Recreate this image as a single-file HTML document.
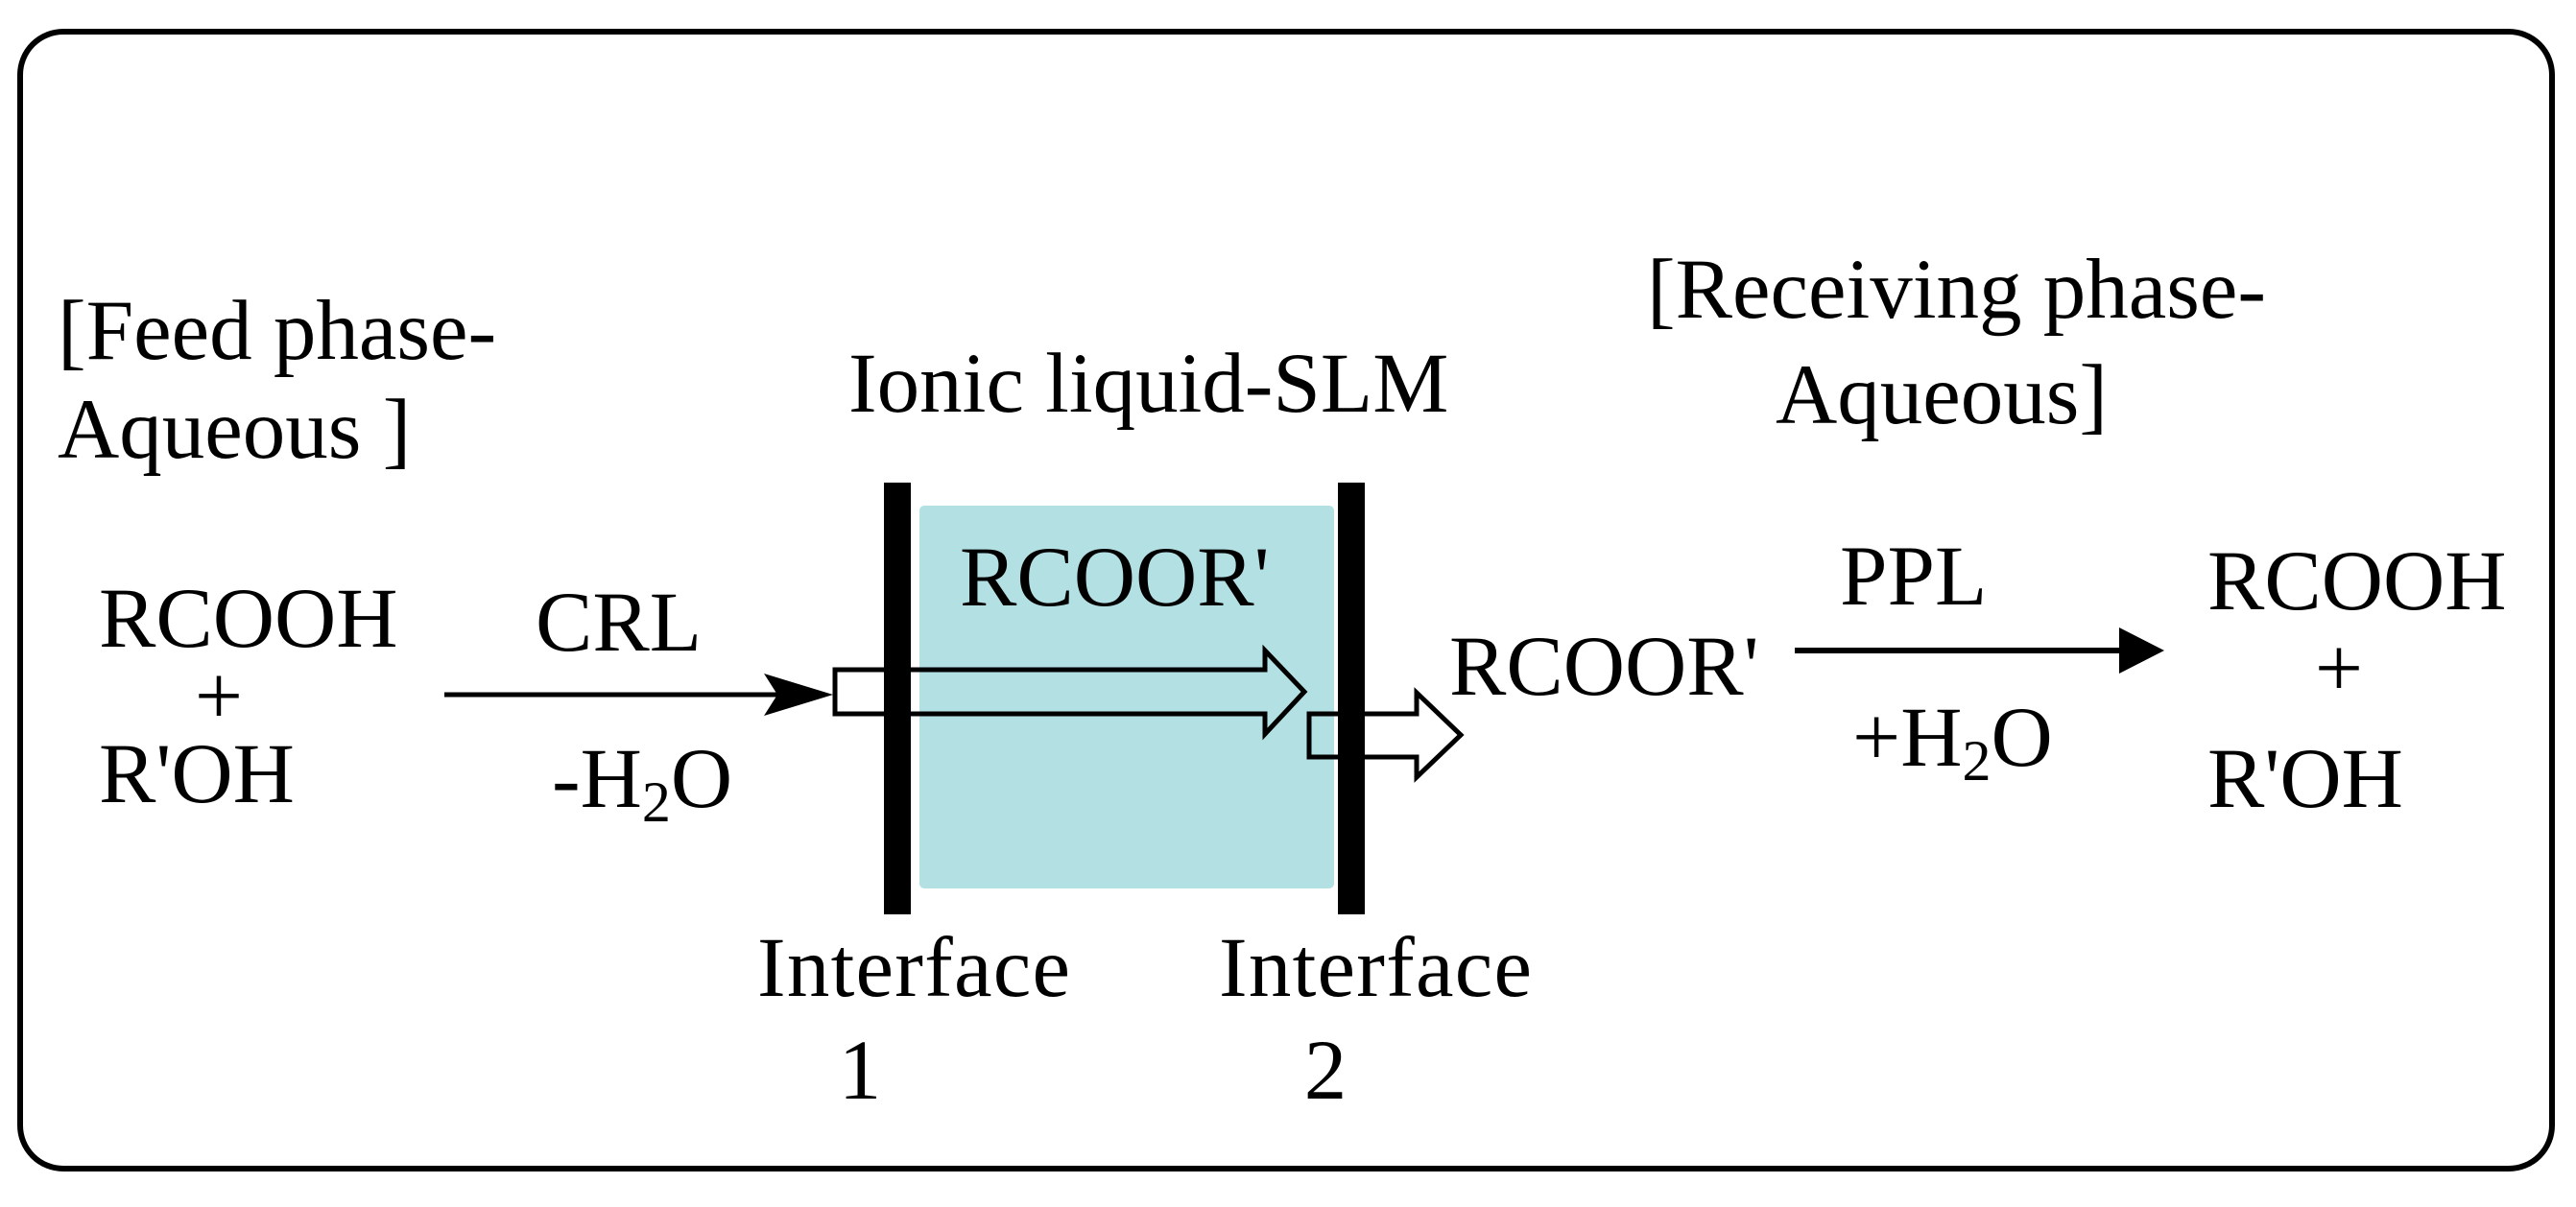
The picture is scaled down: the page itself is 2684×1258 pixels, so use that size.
<!DOCTYPE html>
<html><head><meta charset="utf-8"><style>
html,body{margin:0;padding:0;background:#fff;}
svg{display:block;}
text{font-family:"Liberation Serif",serif;font-size:89px;fill:#000;}
</style></head><body>
<svg width="2684" height="1258" viewBox="0 0 2684 1258" xmlns="http://www.w3.org/2000/svg">
<rect x="21" y="33" width="2638" height="1185" rx="45" ry="45" fill="#fff" stroke="#000" stroke-width="6"/>
<rect x="958" y="527" width="432" height="399" rx="5" fill="#b3e0e3"/>
<rect x="921" y="503" width="28" height="450" fill="#000"/>
<rect x="1394" y="503" width="28" height="450" fill="#000"/>
<!-- hollow arrow 1 -->
<polygon points="870,698 1318,698 1318,678 1359,721 1318,765 1318,744 870,744" fill="none" stroke="#000" stroke-width="5"/>
<rect x="921" y="695" width="28" height="52" fill="#000"/>
<!-- hollow arrow 2 -->
<polygon points="1364,744 1476,744 1476,722 1522,766 1476,810 1476,789 1364,789" fill="none" stroke="#000" stroke-width="5"/>
<rect x="1394" y="740" width="28" height="53" fill="#000"/>
<!-- arrow CRL -->
<line x1="463" y1="724" x2="830" y2="724" stroke="#000" stroke-width="5"/>
<polygon points="796,702 868,724 796,746 810,724" fill="#000"/>
<!-- arrow PPL -->
<line x1="1870" y1="678" x2="2215" y2="678" stroke="#000" stroke-width="6"/>
<polygon points="2208,654 2255,678 2208,702" fill="#000"/>
<text x="60" y="374">[Feed phase-</text>
<text x="60" y="477">Aqueous ]</text>
<text x="884" y="429">Ionic liquid-SLM</text>
<text x="1000" y="631">RCOOR'</text>
<text x="103" y="674">RCOOH</text>
<text x="228" y="755" text-anchor="middle">+</text>
<text x="103" y="836">R'OH</text>
<text x="558" y="678">CRL</text>
<text x="575" y="841">-H<tspan font-size="60" dy="15">2</tspan><tspan dy="-15">O</tspan></text>
<text x="789" y="1038" textLength="326">Interface</text>
<text x="896" y="1145" text-anchor="middle">1</text>
<text x="1270" y="1038" textLength="326">Interface</text>
<text x="1381" y="1145" text-anchor="middle">2</text>
<text x="1716" y="331">[Receiving phase-</text>
<text x="1850" y="441">Aqueous]</text>
<text x="1510" y="724">RCOOR'</text>
<text x="1917" y="630">PPL</text>
<text x="1930" y="798">+H<tspan font-size="60" dy="15">2</tspan><tspan dy="-15">O</tspan></text>
<text x="2300" y="635">RCOOH</text>
<text x="2437" y="726" text-anchor="middle">+</text>
<text x="2300" y="841">R'OH</text>
</svg>
</body></html>
